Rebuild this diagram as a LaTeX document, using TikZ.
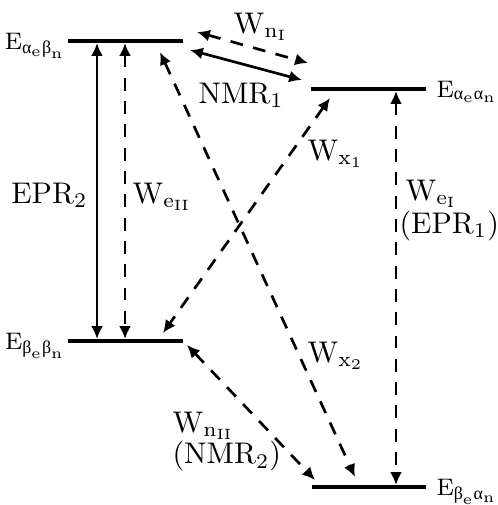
\documentclass[tikz,border=0pt]{standalone}
\usepackage{amsmath,amssymb}
\usepackage{fontspec}
\newfontfamily\grkfont{Liberation Serif}
\newcommand{\gra}{\text{\grkfont α}}
\newcommand{\grb}{\text{\grkfont β}}
\usepackage{tikz}
\usetikzlibrary{arrows.meta}

\begin{document}
\begin{tikzpicture}[
			x=0.01176cm, y=-0.01176cm, >={Latex[length=4.3pt,width=4pt]},
			level/.style={line width=1.1pt},
			trans/.style={<->, line width=0.9pt},
			dashedtrans/.style={<->, line width=0.9pt, dash pattern=on 4.3pt off 3.5pt},
			elabel/.style={font=\footnotesize, inner sep=0pt},
			wlabel/.style={inner sep=0pt, align=left}
			]
			\useasboundingbox (0,0) rectangle (498,505);
			% =========================================================
			% 四个能级
			% =========================================================
			\coordinate (AB1) at (68,41);   \coordinate (AB2) at (183,41);
			\coordinate (AA1) at (311,89);  \coordinate (AA2) at (426,89);
			\coordinate (BB1) at (68,341);  \coordinate (BB2) at (183,341);
			\coordinate (BA1) at (312,487); \coordinate (BA2) at (426,487);
			
			\draw[level] (AB1) -- (AB2);
			\draw[level] (AA1) -- (AA2);
			\draw[level] (BB1) -- (BB2);
			\draw[level] (BA1) -- (BA2);
			
			\node[elabel, anchor=base east] (Eab) at (66,49) {$\mathrm{E}_{\gra_{\mathrm{e}}\grb_{\mathrm{n}}}$};
			\node[elabel, anchor=base west] (Eaa) at (436,97) {$\mathrm{E}_{\gra_{\mathrm{e}}\gra_{\mathrm{n}}}$};
			\node[elabel, anchor=base east] (Ebb) at (66,349) {$\mathrm{E}_{\grb_{\mathrm{e}}\grb_{\mathrm{n}}}$};
			\node[elabel, anchor=base west] (Eba) at (436,495) {$\mathrm{E}_{\grb_{\mathrm{e}}\gra_{\mathrm{n}}}$};
			
			% 跃迁端点
			\coordinate (epr2T) at (97,43);   \coordinate (epr2B) at (97,339);
			\coordinate (we2T) at (125,43);   \coordinate (we2B) at (125,339);
			\coordinate (we1T) at (396,91);   \coordinate (we1B) at (396,485);
			\coordinate (wx1T) at (330,98);   \coordinate (wx1B) at (163,333);
			\coordinate (wx2T) at (160,52);   \coordinate (wx2B) at (355,477);
			\coordinate (wn1L) at (197,32);   \coordinate (wn1R) at (308,63);
			\coordinate (nmr1L) at (190,50);  \coordinate (nmr1R) at (302,80);
			\coordinate (wn2T) at (187,345);  \coordinate (wn2B) at (315,480);
			
			% 电子跃迁
			\draw[trans] (epr2T) -- (epr2B);
			\draw[dashedtrans] (we2T) -- (we2B);
			\draw[dashedtrans] (we1T) -- (we1B);
			
			% 交叉弛豫
			\draw[dashedtrans] (wx1T) -- (wx1B);
			\draw[dashedtrans] (wx2T) -- (wx2B);
			
			% 核跃迁
			\draw[dashedtrans] (wn1L) -- (wn1R);
			\draw[trans] (nmr1L) -- (nmr1R);
			\draw[dashedtrans] (wn2T) -- (wn2B);
			
			% 标注
			\node[wlabel, anchor=base east] (epr2) at (88,203) {EPR$_2$};
			\node[wlabel, anchor=base west] (we2) at (132,203) {$\mathrm{W}_{\mathrm{e}_{\mathrm{II}}}$};
			\node[wlabel, anchor=north west] (we1) at (399,179.5) {\hspace{2pt}$\mathrm{W}_{\mathrm{e}_{\mathrm{I}}}$\\[-1pt](EPR$_1$)};
			\node[wlabel, anchor=base west] (wx1) at (307,160) {$\mathrm{W}_{\mathrm{x}_1}$};
			\node[wlabel, anchor=base west] (wx2) at (307,362) {$\mathrm{W}_{\mathrm{x}_2}$};
			\node[wlabel, anchor=base west] (wn1) at (233,33) {$\mathrm{W}_{\mathrm{n}_{\mathrm{I}}}$};
			\node[wlabel, anchor=base west] (nmr1) at (198,103) {NMR$_1$};
			\node[wlabel, anchor=north west] (wn2) at (172,411.5) {$\mathrm{W}_{\mathrm{n}_{\mathrm{II}}}$\\[-1.6pt](NMR$_2$)};
			
		\end{tikzpicture}
\end{document}
